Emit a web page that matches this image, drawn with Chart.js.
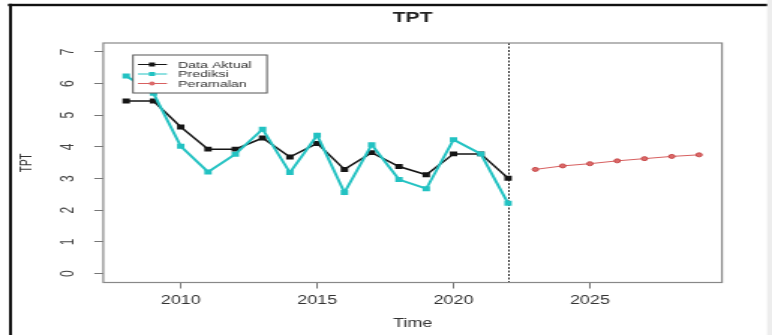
<!DOCTYPE html>
<html lang="id">
  <head>
    <meta charset="UTF-8">
    <title>TPT</title>
    <script src="https://cdn.jsdelivr.net/npm/chart.js"></script>
    <style>
      html, body{margin: 0; padding: 0; background: #fff; overflow: hidden;}
      #wrap{width: 515px; height: 335px; transform: scaleX(1.49903); transform-origin: 0 0;}
      #myChart{display: block;}
    </style>
  </head>
  <body>
    <div id="wrap">
      <canvas id="myChart" width="515" height="335"></canvas>
    </div>
    <script>
      // data
      const years = [2008, 2009, 2010, 2011, 2012, 2013, 2014, 2015, 2016, 2017, 2018, 2019, 2020, 2021, 2022];
      const aktual = [5.45, 5.45, 4.63, 3.93, 3.93, 4.28, 3.68, 4.11, 3.29, 3.82, 3.38, 3.12, 3.78, 3.78, 3.01];
      const prediksi = [6.24, 5.69, 4.02, 3.21, 3.77, 4.56, 3.19, 4.37, 2.56, 4.07, 2.97, 2.68, 4.23, 3.78, 2.22];
      const forecastYears = [2023, 2024, 2025, 2026, 2027, 2028, 2029];
      const peramalan = [3.29, 3.40, 3.47, 3.56, 3.63, 3.70, 3.75];
      const xTicks = [2010, 2015, 2020, 2025];
      const yTicks = [0, 1, 2, 3, 4, 5, 6, 7];
      const splitYear = 2022;

      const toPts = (xs, ys) => xs.map((x, i) => ({x: x, y: ys[i]}));
      const FONT = "'Liberation Sans', Arial, sans-serif";
      Chart.defaults.font.family = FONT;

      // frame, box, title, dashed line, legend, rotated y labels
      const decor = {
        id: 'decor',
        beforeDraw(chart){
          const c = chart.ctx;
          c.save();
          c.fillStyle = '#fff';
          c.fillRect(0, 0, chart.width, chart.height);
          c.fillStyle = '#ededed';
          c.fillRect(511.7, 0, 4, chart.height);
          c.fillStyle = '#111';
          c.fillRect(5.3, 3.8, 506.4, 2.4);
          c.fillRect(6, 3.8, 2, chart.height);
          c.restore();
        },
        beforeDatasetsDraw(chart){
          const c = chart.ctx, a = chart.chartArea;
          const x = Math.round(chart.scales.x.getPixelForValue(splitYear)) + 0.5;
          c.save();
          c.strokeStyle = '#222';
          c.lineWidth = 1;
          c.setLineDash([2, 1.5]);
          c.beginPath();
          c.moveTo(x, a.top);
          c.lineTo(x, a.bottom);
          c.stroke();
          c.restore();
        },
        afterDraw(chart){
          const c = chart.ctx, a = chart.chartArea, ys = chart.scales.y;
          c.save();
          // plot box
          c.strokeStyle = '#888';
          c.lineWidth = 1.2;
          c.strokeRect(a.left, a.top, a.right - a.left, a.bottom - a.top);
          // y tick labels, rotated like R
          c.fillStyle = '#444';
          c.font = '12px ' + FONT;
          c.textAlign = 'center';
          c.textBaseline = 'middle';
          yTicks.forEach(function(v){
            c.save();
            c.translate(45.4, ys.getPixelForValue(v));
            c.rotate(-Math.PI / 2);
            c.fillText(String(v), 0, 0);
            c.restore();
          });
          // title
          c.fillStyle = '#222';
          c.font = 'bold 14px ' + FONT;
          c.fillText('TPT', (a.left + a.right) / 2, 18);
          // legend
          c.fillStyle = '#fff';
          c.fillRect(88.7, 55, 89.4, 38);
          c.strokeStyle = '#555';
          c.lineWidth = 1;
          c.strokeRect(88.7, 55, 89.4, 38);
          c.font = '9.5px ' + FONT;
          c.textAlign = 'left';
          chart.data.datasets.forEach(function(ds, i){
            const y = 64.5 + i * 9.5;
            c.strokeStyle = ds.borderColor;
            c.lineWidth = 1;
            c.beginPath();
            c.moveTo(92, y);
            c.lineTo(111.4, y);
            c.stroke();
            c.fillStyle = ds.pointBackgroundColor;
            if(ds.pointStyle == 'circle'){
              c.beginPath();
              c.arc(101.4, y, 2, 0, Math.PI * 2);
              c.fill();
            } else {
              c.fillRect(99.4, y - 2, 4, 4);
            }
            c.fillStyle = '#333';
            c.fillText(ds.label, 118.7, y + 0.5);
          });
          c.restore();
        }
      };

      new Chart(document.getElementById('myChart'), {
        type: 'line',
        data: {
          datasets: [{
            label: 'Data Aktual',
            data: toPts(years, aktual),
            borderColor: '#151515',
            borderWidth: 1.5,
            pointStyle: 'rect',
            pointRadius: 3.5,
            pointBackgroundColor: '#151515',
            pointBorderWidth: 0,
            order: 2
          }, {
            label: 'Prediksi',
            data: toPts(years, prediksi),
            borderColor: '#22c2c2',
            borderWidth: 2,
            pointStyle: 'rect',
            pointRadius: 3.5,
            pointBackgroundColor: '#22c2c2',
            pointBorderWidth: 0,
            order: 1
          }, {
            label: 'Peramalan',
            data: toPts(forecastYears, peramalan),
            borderColor: '#d86060',
            borderWidth: 1,
            pointStyle: 'circle',
            pointRadius: 2,
            pointBackgroundColor: '#dc6a6a',
            pointBorderColor: '#c84a4a',
            pointBorderWidth: 1,
            order: 0
          }]
        },
        options: {
          responsive: false,
          animation: false,
          devicePixelRatio: 1,
          layout: {padding: {left: 0, top: 43, right: 33.4, bottom: 0}},
          plugins: {legend: {display: false}, title: {display: false}, tooltip: {enabled: false}},
          scales: {
            x: {
              type: 'linear',
              min: 2007.16,
              max: 2029.84,
              afterBuildTicks: function(s){ s.ticks = xTicks.map(v => ({value: v})); },
              afterFit: function(s){ s.height = 52.5; },
              grid: {drawOnChartArea: false, drawTicks: true, tickLength: 6, color: '#777'},
              border: {display: false},
              ticks: {
                autoSkip: false, maxRotation: 0, padding: 5, color: '#333',
                font: {size: 12},
                callback: v => String(v)
              },
              title: {display: true, text: 'Time', color: '#333', font: {size: 12}, padding: {top: 0, bottom: 4}}
            },
            y: {
              min: -0.28,
              max: 7.28,
              afterBuildTicks: function(s){ s.ticks = yTicks.map(v => ({value: v})); },
              afterFit: function(s){ s.width = 68.9; },
              grid: {drawOnChartArea: false, drawTicks: true, tickLength: 6, color: '#777'},
              border: {display: false},
              ticks: {autoSkip: false, callback: () => ''},
              title: {display: true, text: 'TPT', color: '#333', font: {size: 10}, padding: {top: 12, bottom: 0}}
            }
          }
        },
        plugins: [decor]
      });
    </script>
  </body>
</html>
